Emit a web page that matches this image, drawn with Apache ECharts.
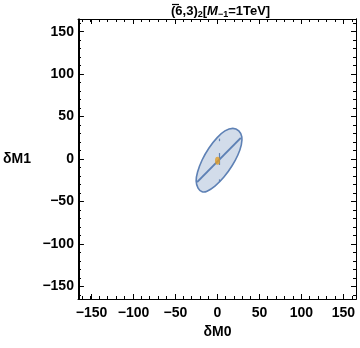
<!DOCTYPE html>
<html>
<head>
<meta charset="utf-8">
<script src="https://cdn.jsdelivr.net/npm/echarts@6/dist/echarts.min.js"></script>
<style>
  html, body { margin: 0; padding: 0; background: #fff; }
  #main { width: 360px; height: 348px; }
</style>
</head>
<body>
<div id="main"></div>
<script>
// axis range and ticks
const axisMin = -165;
const axisMax = 165;
const majorTicks = [-150, -100, -50, 0, 50, 100, 150];
const minorTicks = [-160, -150, -140, -130, -120, -110, -100, -90, -80, -70, -60, -50, -40, -30, -20, -10, 0,
  10, 20, 30, 40, 50, 60, 70, 80, 90, 100, 110, 120, 130, 140, 150, 160];

// ellipse outline
const ellipseX = [18.3, 25.4, 29.0, 28.4, 24.3, 17.2, 7.7, -3.0, -12.4, -18.3, -23.1, -25.4, -23.7, -18.3, -10.1, -0.6, 8.9];
const ellipseY = [36.1, 33.1, 26.0, 16.6, 4.7, -8.3, -21.3, -32.0, -37.9, -38.5, -34.3, -26.0, -15.4, -1.2, 13.0, 24.9, 33.1];

// line across the ellipse
const lineX = [-24.3, 27.8];
const lineY = [-27.2, 24.9];

// small vertical bars
const barX = [2, 2, 2];
const barLow = [-7, 21, -27];
const barHigh = [7, 24, -24];

// best point
const pointX = [0];
const pointY = [-2];

const blue = '#5E81B5';
const orange = '#E19C24';
const font = 'Liberation Sans';

const fmt = v => (v < 0 ? '\u2212' + (-v) : String(v));

function xAx(grid, pos, major, label, name) {
  return {
    type: 'value', gridIndex: grid, position: pos, min: axisMin, max: axisMax,
    splitLine: { show: false },
    axisLine: { show: true, onZero: false, lineStyle: { color: '#000', width: 1 } },
    axisTick: { show: true, inside: true, length: major ? 5 : 3, customValues: major ? majorTicks : minorTicks,
      lineStyle: { color: '#000', width: 1 } },
    axisLabel: { show: label, customValues: majorTicks, formatter: fmt, margin: 7,
      fontFamily: font, fontWeight: 'bold', fontSize: 14, color: '#000' },
    name: name || '', nameLocation: 'middle', nameGap: 26,
    nameTextStyle: { fontFamily: font, fontWeight: 'bold', fontSize: 14, color: '#000' }
  };
}

function yAx(grid, pos, major, label, name) {
  const a = xAx(grid, pos, major, label, name);
  a.axisLabel.margin = 5;
  a.nameGap = 48;
  a.nameRotate = 0;
  return a;
}

const chart = echarts.init(document.getElementById('main'));

const segs = [{ coords: [[lineX[0], lineY[0]], [lineX[1], lineY[1]]], lineStyle: { width: 2 } }];
barX.forEach((x, i) => segs.push({ coords: [[x, barLow[i]], [x, barHigh[i]]], lineStyle: { width: 1.2 } }));

const option = {
  animation: false,
  title: {
    text: '{n|(6,3)}{s|2}{n|[}{i|M}{s|\u22121}{n|=1TeV]}',
    left: 166, top: -2,
    textStyle: {
      rich: {
        n: { fontFamily: font, fontWeight: 'bold', fontSize: 13, color: '#000', lineHeight: 16 },
        i: { fontFamily: font, fontWeight: 'bold', fontStyle: 'italic', fontSize: 13, color: '#000', lineHeight: 16 },
        s: { fontFamily: font, fontWeight: 'bold', fontSize: 9, color: '#000', lineHeight: 16, verticalAlign: 'bottom', padding: [5, 0, 0, 0] }
      }
    }
  },
  graphic: [
    // bar over the 6 in the title
    { type: 'line', shape: { x1: 172, y1: 4.5, x2: 179, y2: 4.5 }, style: { stroke: '#000', lineWidth: 1.2 } }
  ],
  grid: [
    { left: 78, top: 19, right: 4, bottom: 49 },
    { left: 78, top: 19, right: 4, bottom: 49 }
  ],
  xAxis: [
    xAx(0, 'bottom', true, true, '\u03b4M0'),
    xAx(0, 'top', true, false),
    xAx(1, 'bottom', false, false),
    xAx(1, 'top', false, false)
  ],
  yAxis: [
    yAx(0, 'left', true, true, '\u03b4M1'),
    yAx(0, 'right', true, false),
    yAx(1, 'left', false, false),
    yAx(1, 'right', false, false)
  ],
  series: [
    {
      type: 'custom', xAxisIndex: 0, yAxisIndex: 0, data: [[0, 0]],
      renderItem: (params, api) => ({
        type: 'polygon',
        shape: { points: ellipseX.map((x, i) => api.coord([x, ellipseY[i]])), smooth: 0.4 },
        style: { fill: 'rgba(94,129,181,0.28)', stroke: blue, lineWidth: 1.6 }
      })
    },
    {
      type: 'lines', coordinateSystem: 'cartesian2d', xAxisIndex: 0, yAxisIndex: 0,
      lineStyle: { color: blue, opacity: 1 }, data: segs
    },
    {
      type: 'scatter', xAxisIndex: 0, yAxisIndex: 0, symbol: 'circle', symbolSize: [5, 8],
      itemStyle: { color: orange }, data: pointX.map((x, i) => [x, pointY[i]])
    },
    // keeps the minor-tick grid alive
    { type: 'scatter', xAxisIndex: 2, yAxisIndex: 2, data: [], silent: true }
  ]
};
chart.setOption(option);
</script>
</body>
</html>
